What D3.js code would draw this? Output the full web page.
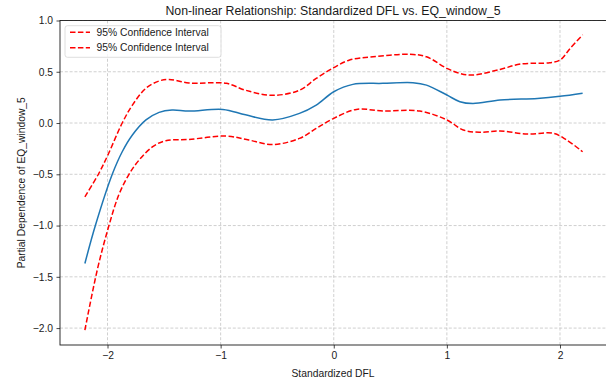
<!DOCTYPE html>
<html>
<head>
<meta charset="utf-8">
<script src="https://cdn.jsdelivr.net/npm/d3@7"></script>
<style>
  body { margin: 0; background: #fff; }
  svg text { font-family: 'Liberation Sans', Arial, sans-serif; fill: #1a1a1a; }
</style>
</head>
<body>
<div id="chart"></div>
<script>
// values
const meanX = [-2.2, -2.106, -1.958, -1.87, -1.78, -1.66, -1.544, -1.43, -1.28, -0.98, -0.78, -0.54, -0.303, -0.155, 0, 0.169, 0.435, 0.7, 0.82, 1.0, 1.115, 1.23, 1.47, 1.8, 2.0, 2.2]
const meanY = [-1.37, -0.995, -0.5, -0.28, -0.117, 0.03, 0.104, 0.127, 0.117, 0.133, 0.08, 0.03, 0.094, 0.175, 0.305, 0.377, 0.387, 0.393, 0.37, 0.273, 0.208, 0.19, 0.224, 0.24, 0.26, 0.29]

const upperX = [-2.2, -2.076, -1.996, -1.87, -1.78, -1.66, -1.544, -1.456, -1.28, -0.95, -0.78, -0.54, -0.303, -0.155, 0, 0.14, 0.347, 0.672, 0.82, 1.0, 1.115, 1.23, 1.47, 1.65, 1.91, 2.0, 2.09, 2.2]
const upperY = [-0.72, -0.49, -0.31, 0.0, 0.175, 0.34, 0.41, 0.425, 0.39, 0.387, 0.32, 0.27, 0.32, 0.435, 0.54, 0.614, 0.646, 0.67, 0.646, 0.533, 0.484, 0.468, 0.523, 0.575, 0.588, 0.614, 0.728, 0.86]

const lowerX = [-2.2, -2.09, -1.99, -1.9, -1.81, -1.72, -1.6, -1.485, -1.28, -0.95, -0.75, -0.54, -0.303, -0.155, 0, 0.2, 0.435, 0.76, 1.0, 1.145, 1.29, 1.47, 1.71, 1.94, 2.06, 2.2]
const lowerY = [-2.02, -1.43, -1.01, -0.7, -0.5, -0.36, -0.23, -0.172, -0.16, -0.127, -0.166, -0.21, -0.15, -0.052, 0.046, 0.133, 0.117, 0.117, 0.03, -0.068, -0.09, -0.078, -0.107, -0.1, -0.166, -0.28]

const xTicks = [-2, -1, 0, 1, 2]
const yTicks = [-2.0, -1.5, -1.0, -0.5, 0.0, 0.5, 1.0]
const legendLabels = ['95% Confidence Interval', '95% Confidence Interval']

const width = 606
const height = 380
const margin = { top: 20.5, left: 60, right: -1.5, bottom: 35 }

const svg = d3
  .select('#chart')
  .append('svg')
  .attr('width', width)
  .attr('height', height)

const x = d3.scaleLinear().domain([-2.42, 2.42]).range([margin.left, width - margin.right])
const y = d3.scaleLinear().domain([-2.165, 1.0]).range([height - margin.bottom, margin.top])

const fmtMinus = s => s.replace('-', '\u2212')

// grid
svg.append('g')
  .selectAll('line')
  .data(xTicks)
  .enter()
  .append('line')
  .attr('x1', d => x(d))
  .attr('x2', d => x(d))
  .attr('y1', y.range()[0])
  .attr('y2', y.range()[1])
  .attr('stroke', '#c4c4c4')
  .attr('stroke-width', 0.8)
  .attr('stroke-dasharray', '3,1.8')

svg.append('g')
  .selectAll('line')
  .data(yTicks)
  .enter()
  .append('line')
  .attr('x1', x.range()[0])
  .attr('x2', x.range()[1])
  .attr('y1', d => y(d))
  .attr('y2', d => y(d))
  .attr('stroke', '#c4c4c4')
  .attr('stroke-width', 0.8)
  .attr('stroke-dasharray', '3,1.8')

// axes
const xAxis = svg.append('g')
  .attr('transform', `translate(0,${y.range()[0]})`)
  .call(d3.axisBottom(x).tickValues(xTicks).tickSize(3.5).tickPadding(3.5)
    .tickFormat(d => fmtMinus(d3.format('d')(d))))
xAxis.select('.domain').remove()

const yAxis = svg.append('g')
  .attr('transform', `translate(${x.range()[0]},0)`)
  .call(d3.axisLeft(y).tickValues(yTicks).tickSize(3.5).tickPadding(3.5)
    .tickFormat(d => fmtMinus(d3.format('.1f')(d))))
yAxis.select('.domain').remove()

svg.selectAll('.tick line').attr('stroke', '#1a1a1a').attr('stroke-width', 0.8)
svg.selectAll('.tick text').attr('font-size', 10.3).attr('fill', '#1a1a1a')
  .style('font-family', "'Liberation Sans', Arial, sans-serif")

// lines
const line = d3.line()
  .x(d => x(d[0]))
  .y(d => y(d[1]))
  .curve(d3.curveCatmullRom.alpha(0.5))

svg.append('path')
  .datum(d3.zip(upperX, upperY))
  .attr('d', line)
  .attr('fill', 'none')
  .attr('stroke', '#ff0000')
  .attr('stroke-width', 1.5)
  .attr('stroke-dasharray', '5.5,2.4')

svg.append('path')
  .datum(d3.zip(lowerX, lowerY))
  .attr('d', line)
  .attr('fill', 'none')
  .attr('stroke', '#ff0000')
  .attr('stroke-width', 1.5)
  .attr('stroke-dasharray', '5.5,2.4')

svg.append('path')
  .datum(d3.zip(meanX, meanY))
  .attr('d', line)
  .attr('fill', 'none')
  .attr('stroke', '#1f77b4')
  .attr('stroke-width', 1.5)

// spines
svg.append('rect')
  .attr('x', x.range()[0])
  .attr('y', y.range()[1])
  .attr('width', x.range()[1] - x.range()[0])
  .attr('height', y.range()[0] - y.range()[1])
  .attr('fill', 'none')
  .attr('stroke', '#1a1a1a')
  .attr('stroke-width', 0.9)

// legend
const legend = svg.append('g').attr('transform', 'translate(65,25.7)')
legend.append('rect')
  .attr('width', 156)
  .attr('height', 31.6)
  .attr('rx', 2.5)
  .attr('fill', 'rgba(255,255,255,0.8)')
  .attr('stroke', '#d6d6d6')
  .attr('stroke-width', 0.8)

legend.selectAll('g')
  .data(legendLabels)
  .enter()
  .append('g')
  .each(function(d, i) {
    const g = d3.select(this)
    const cy = 6.6 + i * 15.4
    g.append('line')
      .attr('x1', 5)
      .attr('x2', 25)
      .attr('y1', cy)
      .attr('y2', cy)
      .attr('stroke', '#ff0000')
      .attr('stroke-width', 1.5)
      .attr('stroke-dasharray', '5.5,2.4')
    g.append('text')
      .text(d)
      .attr('x', 31.5)
      .attr('y', cy)
      .attr('dy', '0.35em')
      .attr('font-size', 10.3)
  })

// title and labels
svg.append('text')
  .text('Non-linear Relationship: Standardized DFL vs. EQ_window_5')
  .attr('x', 333)
  .attr('y', 15)
  .attr('text-anchor', 'middle')
  .attr('font-size', 12.3)

svg.append('text')
  .text('Standardized DFL')
  .attr('x', 333)
  .attr('y', 377)
  .attr('text-anchor', 'middle')
  .attr('font-size', 10.3)

svg.append('text')
  .text('Partial Dependence of EQ_window_5')
  .attr('transform', `translate(24.5,${(y.range()[0] + y.range()[1]) / 2}) rotate(-90)`)
  .attr('text-anchor', 'middle')
  .attr('font-size', 10.3)
</script>
</body>
</html>
